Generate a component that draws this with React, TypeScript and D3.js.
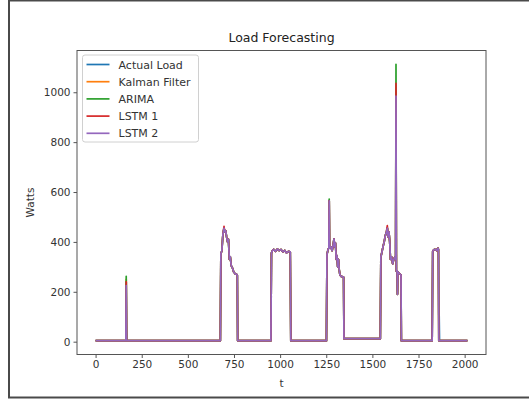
import React, { useEffect, useRef } from "react";
import * as d3 from "d3";

// time axis (t) and common load profile as drawn (LSTM 2 sits on top of the others)
const baseT = [
  0, 164, 166, 168, 170, 676, 679, 684, 690, 696, 700, 705, 710, 715, 720, 725,
  730, 735, 742, 748, 756, 764, 768, 770, 950, 953, 958, 965, 975, 985, 995, 1005,
  1015, 1025, 1035, 1045, 1055, 1058, 1251, 1254, 1260, 1264, 1266, 1268, 1275,
  1282, 1288, 1292, 1296, 1300, 1304, 1308, 1312, 1316, 1320, 1324, 1330, 1340,
  1344, 1346, 1543, 1546, 1552, 1558, 1564, 1570, 1576, 1581, 1585, 1590, 1594,
  1598, 1604, 1610, 1616, 1622, 1626, 1628, 1630, 1634, 1636, 1638, 1644, 1652,
  1655, 1657, 1824, 1827, 1832, 1840, 1848, 1852, 1856, 1858, 1860, 1862, 1864,
  2015,
];
const baseV = [
  4, 4, 225, 4, 4, 4, 355, 362, 430, 455, 440, 445, 420, 400, 410, 330,
  340, 305, 295, 280, 272, 270, 266, 4, 4, 355, 365, 370, 362, 372, 365, 370,
  360, 366, 356, 362, 360, 4, 4, 350, 370, 375, 565, 375, 380,
  365, 390, 412, 380, 395, 330, 345, 300, 330, 290, 268, 262, 260,
  258, 12, 12, 340, 360, 382, 400, 425, 440, 455, 420, 440, 400,
  330, 340, 312, 330, 340, 330, 985, 282, 285, 190, 280, 275, 270,
  268, 4, 4, 362, 368, 370, 365, 372, 375, 370, 4, 4, 4,
  4,
];

// per-series departures from the common profile: [t, value]
const actualOverrides: [number, number][] = [[166, 240], [168, 55], [1628, 1000], [1860, 105], [1862, 105]];
const kalmanOverrides: [number, number][] = [[166, 250], [1628, 1005]];
const arimaOverrides: [number, number][] = [[166, 262], [1266, 572], [1628, 1112]];
const lstm1Overrides: [number, number][] = [[166, 240], [696, 462], [1581, 465], [1628, 1036]];
const lstm2Overrides: [number, number][] = [];

const seriesNames = ["Actual Load", "Kalman Filter", "ARIMA", "LSTM 1", "LSTM 2"];
const seriesColors = ["#1f77b4", "#ff7f0e", "#2ca02c", "#d62728", "#9467bd"];
const seriesOverrides = [actualOverrides, kalmanOverrides, arimaOverrides, lstm1Overrides, lstm2Overrides];

const xTicks = [0, 250, 500, 750, 1000, 1250, 1500, 1750, 2000];
const yTicks = [0, 200, 400, 600, 800, 1000];

const W = 529, H = 400;
const plot = { left: 77, right: 486, top: 50.5, bottom: 354.5 };
const font = "'DejaVu Sans', sans-serif";

function buildSeries(over: [number, number][]) {
  const m = new Map(over);
  return baseT.map((t, i) => ({ t, v: m.has(t) ? (m.get(t) as number) : baseV[i] }));
}

export default function App() {
  const ref = useRef<SVGSVGElement>(null);

  useEffect(() => {
    const svg = d3.select(ref.current);
    svg.selectAll("*").remove();

    const tMax = d3.max(baseT) as number;
    const allVals = seriesOverrides.flatMap((o) => buildSeries(o).map((d) => d.v));
    const vMin = d3.min(allVals) as number;
    const vMax = d3.max(allVals) as number;
    const padX = tMax * 0.05;
    const padY = (vMax - vMin) * 0.05;

    const x = d3.scaleLinear().domain([-padX, tMax + padX]).range([plot.left, plot.right]);
    const y = d3.scaleLinear().domain([vMin - padY, vMax + padY]).range([plot.bottom, plot.top]);

    // outer frame of the screenshot
    svg.append("rect")
      .attr("x", 9).attr("y", 0.5).attr("width", 540).attr("height", 397)
      .attr("fill", "white").attr("stroke", "#4a4a4a").attr("stroke-width", 2);

    const line = d3.line<{ t: number; v: number }>().x((d) => x(d.t)).y((d) => y(d.v));

    const g = svg.append("g");
    seriesOverrides.forEach((o, i) => {
      g.append("path")
        .attr("d", line(buildSeries(o)) as string)
        .attr("fill", "none")
        .attr("stroke", seriesColors[i])
        .attr("stroke-width", 1.7)
        .attr("stroke-linejoin", "round");
    });

    // spines
    svg.append("rect")
      .attr("x", plot.left).attr("y", plot.top)
      .attr("width", plot.right - plot.left).attr("height", plot.bottom - plot.top)
      .attr("fill", "none").attr("stroke", "#555").attr("stroke-width", 1);

    const xAxis = svg.append("g").attr("transform", `translate(0,${plot.bottom})`)
      .call(d3.axisBottom(x).tickValues(xTicks).tickSize(3.5).tickPadding(3).tickFormat(d3.format("d")));
    const yAxis = svg.append("g").attr("transform", `translate(${plot.left},0)`)
      .call(d3.axisLeft(y).tickValues(yTicks).tickSize(3.5).tickPadding(3).tickFormat(d3.format("d")));
    [xAxis, yAxis].forEach((a) => {
      a.select(".domain").remove();
      a.selectAll("line").attr("stroke", "#555");
      a.selectAll("text").attr("fill", "#333").style("font-family", font).style("font-size", "10.5px");
    });

    svg.append("text")
      .attr("x", (plot.left + plot.right) / 2).attr("y", 41.5)
      .attr("text-anchor", "middle").attr("fill", "#222")
      .style("font-family", font).style("font-size", "12.5px")
      .text("Load Forecasting");

    svg.append("text")
      .attr("x", (plot.left + plot.right) / 2).attr("y", 387)
      .attr("text-anchor", "middle").attr("fill", "#333")
      .style("font-family", font).style("font-size", "10.5px")
      .text("t");

    svg.append("text")
      .attr("transform", `translate(34,${(plot.top + plot.bottom) / 2}) rotate(-90)`)
      .attr("text-anchor", "middle").attr("fill", "#333")
      .style("font-family", font).style("font-size", "10.5px")
      .text("Watts");

    // legend
    const lg = svg.append("g").attr("transform", "translate(82.5,55)");
    lg.append("rect")
      .attr("width", 116).attr("height", 87).attr("rx", 2.5)
      .attr("fill", "white").attr("fill-opacity", 0.8)
      .attr("stroke", "#d0d0d0").attr("stroke-width", 1);
    seriesNames.forEach((name, i) => {
      const cy = 9.5 + i * 17.2;
      lg.append("line")
        .attr("x1", 4).attr("x2", 27).attr("y1", cy).attr("y2", cy)
        .attr("stroke", seriesColors[i]).attr("stroke-width", 1.7);
      lg.append("text")
        .attr("x", 36).attr("y", cy + 4)
        .attr("fill", "#333")
        .style("font-family", font).style("font-size", "11px")
        .text(name);
    });
  }, []);

  return (
    <svg ref={ref} width={W} height={H}
      style={{ position: "absolute", left: 0, top: 0, background: "white" }} />
  );
}
